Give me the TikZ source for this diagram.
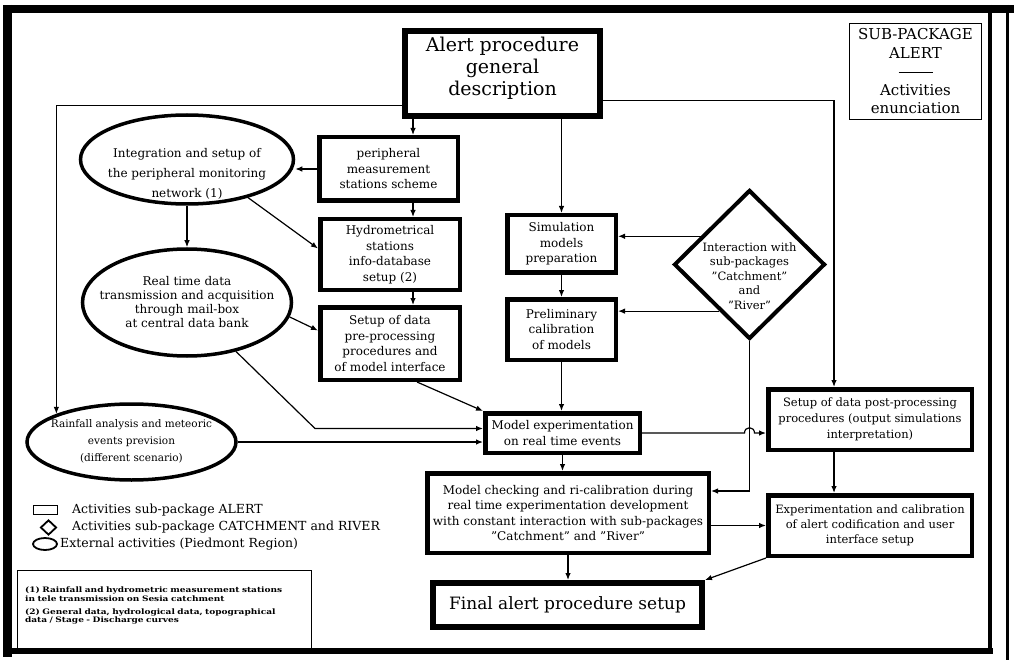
\documentclass[tikz,border=0pt]{standalone}
\usepackage{fontspec}
\setmainfont{DejaVu Serif}
\newfontfamily\footfont{DejaVu Serif}[FakeStretch=1.2]
\usetikzlibrary{shapes.geometric,arrows.meta}
\begin{document}
\begin{tikzpicture}[x=1pt,y=-1pt,
  conn/.style={line width=1.2pt,-{Latex[length=7pt,width=5.5pt]}},
  abox/.style={draw,rectangle,line width=4.5pt,inner sep=0pt,align=center,
    font=\fontsize{12}{15.5}\selectfont},
  heavybox/.style={abox,line width=6pt},
  extact/.style={draw,ellipse,line width=3.5pt,inner sep=0pt},
  catch/.style={draw,diamond,line width=4pt,inner sep=0pt},
  lbl/.style={inner sep=0pt,align=center},
  thinbox/.style={draw,rectangle,line width=1.2pt,inner sep=0pt},
  legtext/.style={anchor=west,inner sep=0pt,font=\fontsize{12.5}{15}\selectfont},
  legicon/.style={draw,line width=1.8pt,inner sep=0pt}
]
\useasboundingbox (0,0) rectangle (1014,660);
% frame
\draw[line width=8pt] (3,9) -- (1014,9);
\draw[line width=9pt] (7.5,5) -- (7.5,657);
\draw[line width=6pt] (3,651) -- (993,651);
\draw[line width=3.5pt] (990,5) -- (990,652);
\draw[line width=2.5pt] (1007.5,5) -- (1007.5,660);

% nodes
\node[heavybox,minimum width=195pt,minimum height=85pt,
  label={[lbl,font=\fontsize{19}{22}\selectfont,yshift=5pt]center:{Alert procedure\\general\\description}}] (title) at (502.5,73.5) {};
\node[thinbox,minimum width=132pt,minimum height=96pt,align=center,font=\fontsize{15}{18.5}\selectfont] (sub) at (915.5,71.5) {SUB-PACKAGE\\ALERT\\\rule[4pt]{34pt}{1.2pt}\\Activities\\enunciation};
\node[extact,minimum width=213pt,minimum height=89pt,
  label={[lbl,font=\fontsize{12}{20}\selectfont,yshift=-14pt]center:{Integration and setup of\\the peripheral monitoring\\network (1)}}] (ell1) at (187,159.5) {};
\node[abox,minimum width=138.5pt,minimum height=63.5pt] (peri) at (388.5,169) {peripheral\\measurement\\stations scheme};
\node[abox,minimum width=139.5pt,minimum height=70.5pt] (hydro) at (390,254.5) {Hydrometrical\\stations\\info-database\\setup (2)};
\node[extact,minimum width=209pt,minimum height=107pt,
  label={[lbl,font=\fontsize{12}{14}\selectfont]center:{Real time data\\transmission and acquisition\\through mail-box\\at central data bank}}] (ell2) at (187,302.5) {};
\node[abox,minimum width=139.5pt,minimum height=72.5pt] (pre) at (390,343.5) {Setup of data\\pre-processing\\procedures and\\of model interface};
\node[extact,minimum width=209pt,minimum height=76pt,
  label={[lbl,font=\fontsize{10.5}{17}\selectfont,yshift=1pt]center:{Rainfall analysis and meteoric\\events prevision\\(different scenario)}}] (ell3) at (131.5,442) {};
\node[abox,minimum width=108.5pt,minimum height=57.5pt] (sim) at (561.5,244) {Simulation\\models\\preparation};
\node[abox,minimum width=108.5pt,minimum height=60.5pt] (prelim) at (561.5,329.5) {Preliminary\\calibration\\of models};
\node[catch,minimum width=151pt,minimum height=149pt,
  label={[lbl,font=\fontsize{11.5}{14.5}\selectfont,yshift=-11.5pt]center:{Interaction with\\sub-packages\\"Catchment"\\and\\"River"}}] (dia) at (749.5,264.5) {};
\node[abox,minimum width=154.5pt,minimum height=39.5pt] (mexp) at (562.5,433) {Model experimentation\\on real time events};
\node[abox,minimum width=281.5pt,minimum height=79.5pt] (check) at (568,513) {Model checking and ri-calibration during\\real time experimentation development\\with constant interaction with sub-packages\\"Catchment" and "River"};
\node[heavybox,minimum width=269pt,minimum height=44pt,font=\fontsize{17}{20}\selectfont] (final) at (567.5,605) {Final alert procedure setup};
\node[abox,minimum width=203.5pt,minimum height=60.5pt,font=\fontsize{11.5}{16}\selectfont] (post) at (870,419.5) {Setup of data post-processing\\procedures (output simulations\\interpretation)};
\node[abox,minimum width=203.5pt,minimum height=60.5pt,font=\fontsize{11.5}{15}\selectfont] (expcal) at (870,525.5) {Experimentation and calibration\\of alert codification and user\\interface setup};

% legend
\node[legicon,rectangle,minimum width=24pt,minimum height=9pt] (lg1) at (45.5,510) {};
\node[legtext] (lt1) at (72,510) {Activities sub-package ALERT};
\node[legicon,diamond,minimum width=16pt,minimum height=15pt] (lg2) at (48.5,527.5) {};
\node[legtext] (lt2) at (72,527.5) {Activities sub-package CATCHMENT and RIVER};
\node[legicon,ellipse,minimum width=24pt,minimum height=12pt] (lg3) at (45,544) {};
\node[legtext] (lt3) at (60,544) {External activities (Piedmont Region)};

\node[thinbox,minimum width=294pt,minimum height=79pt] (foot) at (164.5,610) {};
\node[anchor=north west,inner sep=0pt,text width=285pt,align=left,
  font=\footfont\bfseries\fontsize{7.5}{8.5}\selectfont] (foottext) at ([xshift=8pt,yshift=-17pt]foot.north west)
  {(1) Rainfall and hydrometric measurement stations\\in tele transmission on Sesia catchment\\[4.5pt](2) General data, hydrological data, topographical\\data / Stage - Discharge curves};

% connectors
\coordinate (c1) at ([yshift=-32pt]title.west);
\draw[conn] (c1) -| (ell3.north west);
\coordinate (c2) at ([xshift=11pt]title.south west);
\draw[conn] (c2) -- (c2 |- peri.north);
\draw[conn] (peri.west) -- (peri.west -| ell1.east);
\coordinate (c4) at ([xshift=24.5pt]peri.south);
\draw[conn] (c4) -- (c4 |- hydro.north);
\draw[conn] (ell1.-32) -- ([yshift=6pt]hydro.west);
\draw[conn] (ell1.south) -- (ell2.north);
\coordinate (c7) at ([xshift=23pt]hydro.south);
\draw[conn] (c7) -- (c7 |- pre.north);
\draw[conn] (ell2.-8) -- ([yshift=13pt]pre.west);
\coordinate (b9) at (315,428.5);
\draw[conn] (ell2.-45) -- (b9) -- (b9 -| mexp.west);
\draw[conn] ([xshift=27pt]pre.south) -- (mexp.north west);
\draw[conn] (ell3.east) -- (ell3.east -| mexp.west);
\draw[conn] (title.south -| sim.north) -- (sim.north);
\coordinate (c13) at ([yshift=-27pt]title.east);
\coordinate (c13b) at ([xshift=68pt]post.north west);
\draw[conn] (c13) -| (c13b);
\draw[conn] (dia.150) -- (dia.150 -| sim.east);
\draw[conn] (dia.237) -- (dia.237 -| prelim.east);
\draw[conn] (sim.south) -- (prelim.north);
\draw[conn] (prelim.south) -- (prelim.south |- mexp.north);
\coordinate (c18) at ([yshift=22pt]check.east);
\draw[conn] (dia.south) |- (c18);
\coordinate (hop) at (mexp.east -| dia.south);
\draw[conn] (mexp.east) -- ([xshift=-5pt]hop) .. controls ([xshift=-5pt,yshift=7pt]hop) and ([xshift=5pt,yshift=7pt]hop) .. ([xshift=5pt]hop) -- (mexp.east -| post.west);
\draw[conn] (mexp.south) -- (mexp.south |- check.north);
\draw[conn] (expcal.west -| check.east) -- (expcal.west);
\coordinate (c22) at ([xshift=68pt]post.south west);
\draw[conn] (c22) -- (c22 |- expcal.north);
\draw[conn] (check.south) -- (check.south |- final.north);
\draw[conn] (expcal.south west) -- (final.north east);
\end{tikzpicture}
\end{document}
